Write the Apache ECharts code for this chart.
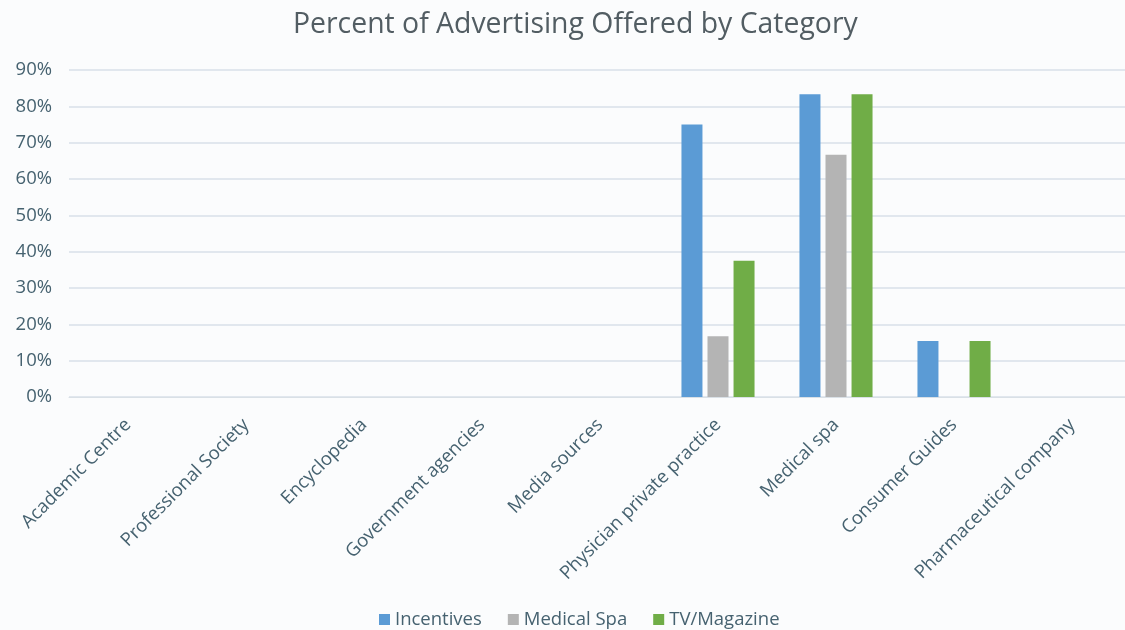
<!DOCTYPE html>
<html><head><meta charset="utf-8">
<script src="https://cdn.jsdelivr.net/npm/echarts@6/dist/echarts.min.js"></script>
<style>html,body{margin:0;padding:0;background:#fbfcfd;}#c{width:1125px;height:630px;}</style>
</head><body><div id="c"></div>
<script>
const categories = ["Academic Centre","Professional Society","Encyclopedia","Government agencies","Media sources","Physician private practice","Medical spa","Consumer Guides","Pharmaceutical company"];
const incentives = [0,0,0,0,0,75,83.3,15.4,0];
const medicalSpa = [0,0,0,0,0,16.7,66.7,0,0];
const tvMagazine = [0,0,0,0,0,37.5,83.3,15.4,0];
const seriesNames = ["Incentives","Medical Spa","TV/Magazine"];
const textColor = '#466270';
const chart = echarts.init(document.getElementById('c'));
chart.setOption({
  backgroundColor:'#fbfcfd',
  title:{text:'Percent of Advertising Offered by Category',left:288,top:6,
    textStyle:{fontFamily:'Open Sans',fontSize:28.4,fontWeight:'normal',color:'#525d63'}},
  legend:{top:605,left:374,itemWidth:11,itemHeight:11,itemGap:26,icon:'rect',
    textStyle:{fontFamily:'Open Sans',fontSize:18.5,color:textColor},data:seriesNames},
  grid:{left:69,width:1062,top:70,bottom:233,outerBoundsMode:'none',containLabel:false},
  xAxis:{type:'category',data:categories,
    axisLine:{lineStyle:{color:'#d9e0e6'}},axisTick:{show:false},
    axisLabel:{rotate:45,interval:0,fontFamily:'Open Sans',fontSize:18.5,color:textColor,margin:25}},
  yAxis:{type:'value',min:0,max:90,interval:10,
    axisLabel:{formatter:'{value}%',fontFamily:'Open Sans',fontSize:18.5,color:textColor,margin:17}},
  series:[
    {name:seriesNames[0],type:'bar',data:incentives,barWidth:21,barGap:'24%',itemStyle:{color:'#5b9bd5'}},
    {name:seriesNames[1],type:'bar',data:medicalSpa,barWidth:21,barGap:'24%',itemStyle:{color:'#b4b4b4'}},
    {name:seriesNames[2],type:'bar',data:tvMagazine,barWidth:21,barGap:'24%',itemStyle:{color:'#70ad47'}}
  ]
});
chart.setOption({yAxis:{axisLine:{show:false},axisTick:{show:false},splitLine:{lineStyle:{color:'#d9e1e8',width:1.5}}}});
</script></body></html>
